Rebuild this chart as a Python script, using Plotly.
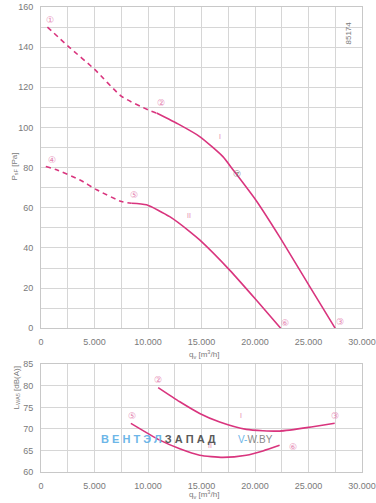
import plotly.graph_objects as go

# ---- data ----
p1_dash_x = [600, 2550, 5040, 7530, 10010, 10800]
p1_dash_y = [150, 140.4, 128.8, 115.5, 108.8, 107.2]
p1_x = [10800, 12970, 14830, 17000, 17940, 20120, 22300, 25090, 27500]
p1_y = [107.2, 101.3, 95.5, 85.5, 79.0, 63.5, 45.5, 21.0, 0]

p2_dash_x = [450, 1460, 3640, 5200, 7530, 8460]
p2_dash_y = [80.6, 78.9, 73.9, 69.0, 63.1, 62.3]
p2_x = [8460, 9860, 12030, 13900, 14830, 17630, 20120, 22400]
p2_y = [62.3, 61.5, 55.6, 48.2, 44.0, 29.0, 14.1, 0]

s1_x = [10950, 12970, 14830, 16700, 19190, 22300, 25400, 27450]
s1_y = [79.6, 76.3, 73.6, 71.6, 69.9, 69.5, 70.5, 71.3]
s2_x = [8400, 11100, 12970, 14830, 17000, 19190, 20740, 22300]
s2_y = [71.3, 67.4, 65.4, 63.9, 63.4, 63.9, 64.9, 66.2]

x_ticks = [0, 5000, 10000, 15000, 20000, 25000, 30000]
x_tick_text = ["0", "5.000", "10.000", "15.000", "20.000", "25.000", "30.000"]
p_ticks = [0, 20, 40, 60, 80, 100, 120, 140, 160]
s_ticks = [60, 65, 70, 75, 80, 85]

# point labels: (text, x, y, chart)
point_labels = [
    ("①", 840, 153.3, 1), ("②", 11170, 112, 1), ("③", 27950, 3.3, 1),
    ("④", 1000, 84, 1), ("⑤", 8710, 66.4, 1), ("⑥", 22850, 2.8, 1),
    ("②", 10940, 81.3, 2), ("③", 27490, 73, 2), ("⑤", 8460, 73, 2), ("⑥", 23540, 65.8, 2),
]
roman_labels = [("I", 16700, 95.5, 1), ("II", 13840, 56.1, 1), ("I", 18720, 73, 2), ("II", 15770, 66.2, 2)]

PINK = "#d9357e"
LPINK = "#e586b2"
GRID = "#d6d6d6"
TICKC = "#7a7a7a"
FONT = "Liberation Sans, Arial, sans-serif"

fig = go.Figure()
base_line = dict(color=PINK, width=1.6, shape="spline", smoothing=0.6)
dash_line = dict(base_line, dash="5px,4px")


def add(x, y, xa, ya, ln):
    fig.add_trace(go.Scatter(x=x, y=y, xaxis=xa, yaxis=ya, mode="lines", line=ln,
                             showlegend=False, hoverinfo="skip"))


add(p1_dash_x, p1_dash_y, "x", "y", dash_line)
add(p1_x, p1_y, "x", "y", base_line)
add(p2_dash_x, p2_dash_y, "x", "y", dash_line)
add(p2_x, p2_y, "x", "y", base_line)
add(s1_x, s1_y, "x2", "y2", base_line)
add(s2_x, s2_y, "x2", "y2", base_line)

axis_common = dict(showline=True, linecolor="#c8c8c8", linewidth=1, mirror=True, automargin=False,
                   gridcolor=GRID, gridwidth=1, zeroline=False, ticks="",
                   tickfont=dict(family=FONT, size=9, color=TICKC), ticklabelstandoff=5)

fig.update_layout(
    template="none",
    width=376, height=503,
    margin=dict(l=41, r=13.5, t=7, b=31, autoexpand=False),
    paper_bgcolor="white", plot_bgcolor="white",
    font=dict(family=FONT),
    showlegend=False,
    xaxis=dict(domain=[0, 1], range=[0, 30000], anchor="y", tickvals=x_ticks, ticktext=x_tick_text,
               minor=dict(dtick=2500, tick0=0, showgrid=True, gridcolor=GRID, ticks=""), **axis_common),
    yaxis=dict(domain=[0.309, 1], range=[0, 160], anchor="x", tickvals=p_ticks,
               minor=dict(dtick=10, tick0=0, showgrid=True, gridcolor=GRID, ticks=""), **axis_common),
    xaxis2=dict(domain=[0, 1], range=[0, 30000], anchor="y2", tickvals=x_ticks, ticktext=x_tick_text,
                minor=dict(dtick=2500, tick0=0, showgrid=True, gridcolor=GRID, ticks=""), **axis_common),
    yaxis2=dict(domain=[0, 0.2316], range=[60, 85], anchor="x2", tickvals=s_ticks, **axis_common),
)

ann = []
for t, x, y, c in point_labels:
    ann.append(dict(text=t, x=x, y=y, xref="x" if c == 1 else "x2", yref="y" if c == 1 else "y2",
                    showarrow=False, font=dict(size=9, color=LPINK, family="DejaVu Sans")))
ann.append(dict(text="⑦", x=18310, y=77, xref="x", yref="y", showarrow=False,
                font=dict(size=9, color="#777777", family="DejaVu Sans")))
for t, x, y, c in roman_labels:
    ann.append(dict(text=t, x=x, y=y, xref="x" if c == 1 else "x2", yref="y" if c == 1 else "y2",
                    showarrow=False, font=dict(size=7, color=LPINK, family=FONT)))

# axis titles
ann.append(dict(text="P<sub>sF</sub> [Pa]", x=-0.104, y=0.656, xref="paper", yref="paper", textangle=-90,
                showarrow=False, font=dict(size=8, color=TICKC)))
ann.append(dict(text="L<sub>WA5</sub> [dB(A)]", x=-0.098, y=0.129, xref="paper", yref="paper", textangle=-90,
                showarrow=False, font=dict(size=8, color=TICKC)))
ann.append(dict(text="q<sub>v</sub> [m<sup>3</sup>/h]", x=0.507, y=(472 - 362) / 465, xref="paper", yref="paper",
                showarrow=False, font=dict(size=8, color=TICKC)))
ann.append(dict(text="q<sub>v</sub> [m<sup>3</sup>/h]", x=0.507, y=(472 - 502) / 465, xref="paper", yref="paper",
                showarrow=False, font=dict(size=8, color=TICKC)))
ann.append(dict(text="85174", x=(355 - 41) / 321.5, y=(472 - 20) / 465, xref="paper", yref="paper", textangle=-90,
                showarrow=False, font=dict(size=8, color=TICKC)))

# watermark
ann.append(dict(text='<b><span style="color:#6db6e8">В Е Н Т Э Л</span> <span style="color:#5a5a5a">З А П А Д</span></b>',
                x=5450, y=67.6, xref="x2", yref="y2", xanchor="left", showarrow=False,
                font=dict(size=11, family=FONT)))
ann.append(dict(text='<span style="color:#6db6e8">V-</span><span style="color:#8a8a8a">W.BY</span>',
                x=18200, y=67.6, xref="x2", yref="y2", xanchor="left", showarrow=False,
                font=dict(size=10, family=FONT)))

fig.update_layout(annotations=ann)
fig.write_html("out.html", config={"displayModeBar": False},
               post_script="document.body.style.margin='0';document.body.style.overflow='hidden';")
